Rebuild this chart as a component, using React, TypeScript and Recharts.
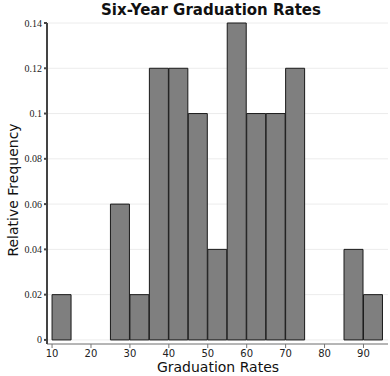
import { BarChart, Bar, XAxis, YAxis, CartesianGrid } from "recharts";

// bin midpoints (width 5) and relative frequencies
const binMids = [12.5, 17.5, 22.5, 27.5, 32.5, 37.5, 42.5, 47.5, 52.5, 57.5, 62.5, 67.5, 72.5, 77.5, 82.5, 87.5, 92.5];
const relFreq = [0.02, 0, 0, 0.06, 0.02, 0.12, 0.12, 0.1, 0.04, 0.14, 0.1, 0.1, 0.12, 0, 0, 0.04, 0.02];
const xTicks = [10, 20, 30, 40, 50, 60, 70, 80, 90];
const yTicks = [0, 0.02, 0.04, 0.06, 0.08, 0.1, 0.12, 0.14];

const data = binMids.map((mid, i) => ({ mid, freq: relFreq[i] }));

const sans = "'DejaVu Sans', Verdana, sans-serif";

export default function App() {
  return (
    <div style={{ position: "absolute", left: 0, top: 0, width: 390, height: 376, background: "#fff" }}>
      <div
        style={{
          position: "absolute",
          top: 1,
          left: 0,
          width: 422,
          textAlign: "center",
          fontFamily: sans,
          fontWeight: "bold",
          fontSize: 15,
          color: "#111",
        }}
      >
        Six-Year Graduation Rates
      </div>
      <div
        style={{
          position: "absolute",
          left: 0,
          top: 359,
          width: 436,
          textAlign: "center",
          fontFamily: sans,
          fontSize: 14,
          lineHeight: "16px",
          color: "#111",
        }}
      >
        Graduation Rates
      </div>
      <div
        style={{
          position: "absolute",
          left: 13,
          top: 190,
          transform: "translate(-50%, -50%) rotate(-90deg)",
          whiteSpace: "nowrap",
          fontFamily: sans,
          fontSize: 14,
          color: "#111",
        }}
      >
        Relative Frequency
      </div>
      <BarChart
        width={390}
        height={376}
        data={data}
        margin={{ top: 23, right: 2, bottom: 0, left: 0 }}
        barCategoryGap={0}
        barGap={0}
        style={{ position: "absolute", left: 0, top: 0 }}
      >
        <CartesianGrid horizontal vertical={false} stroke="#ececec" />
        <XAxis
          dataKey="mid"
          type="number"
          domain={[8.7, 96.3]}
          ticks={xTicks}
          height={32}
          tickSize={4}
          stroke="#777"
          tick={{ fill: "#222", fontSize: 10, fontFamily: sans }}
          interval={0}
        />
        <YAxis
          domain={[-0.0018, 0.14]}
          ticks={yTicks}
          width={47}
          tickSize={3}
          stroke="#444"
          strokeWidth={2}
          tick={{ fill: "#222", fontSize: 10, fontFamily: "'Liberation Serif', 'DejaVu Serif', serif" }}
          interval={0}
        />
        <Bar dataKey="freq" fill="#7f7f7f" stroke="#1a1a1a" strokeWidth={1} isAnimationActive={false} />
      </BarChart>
    </div>
  );
}
